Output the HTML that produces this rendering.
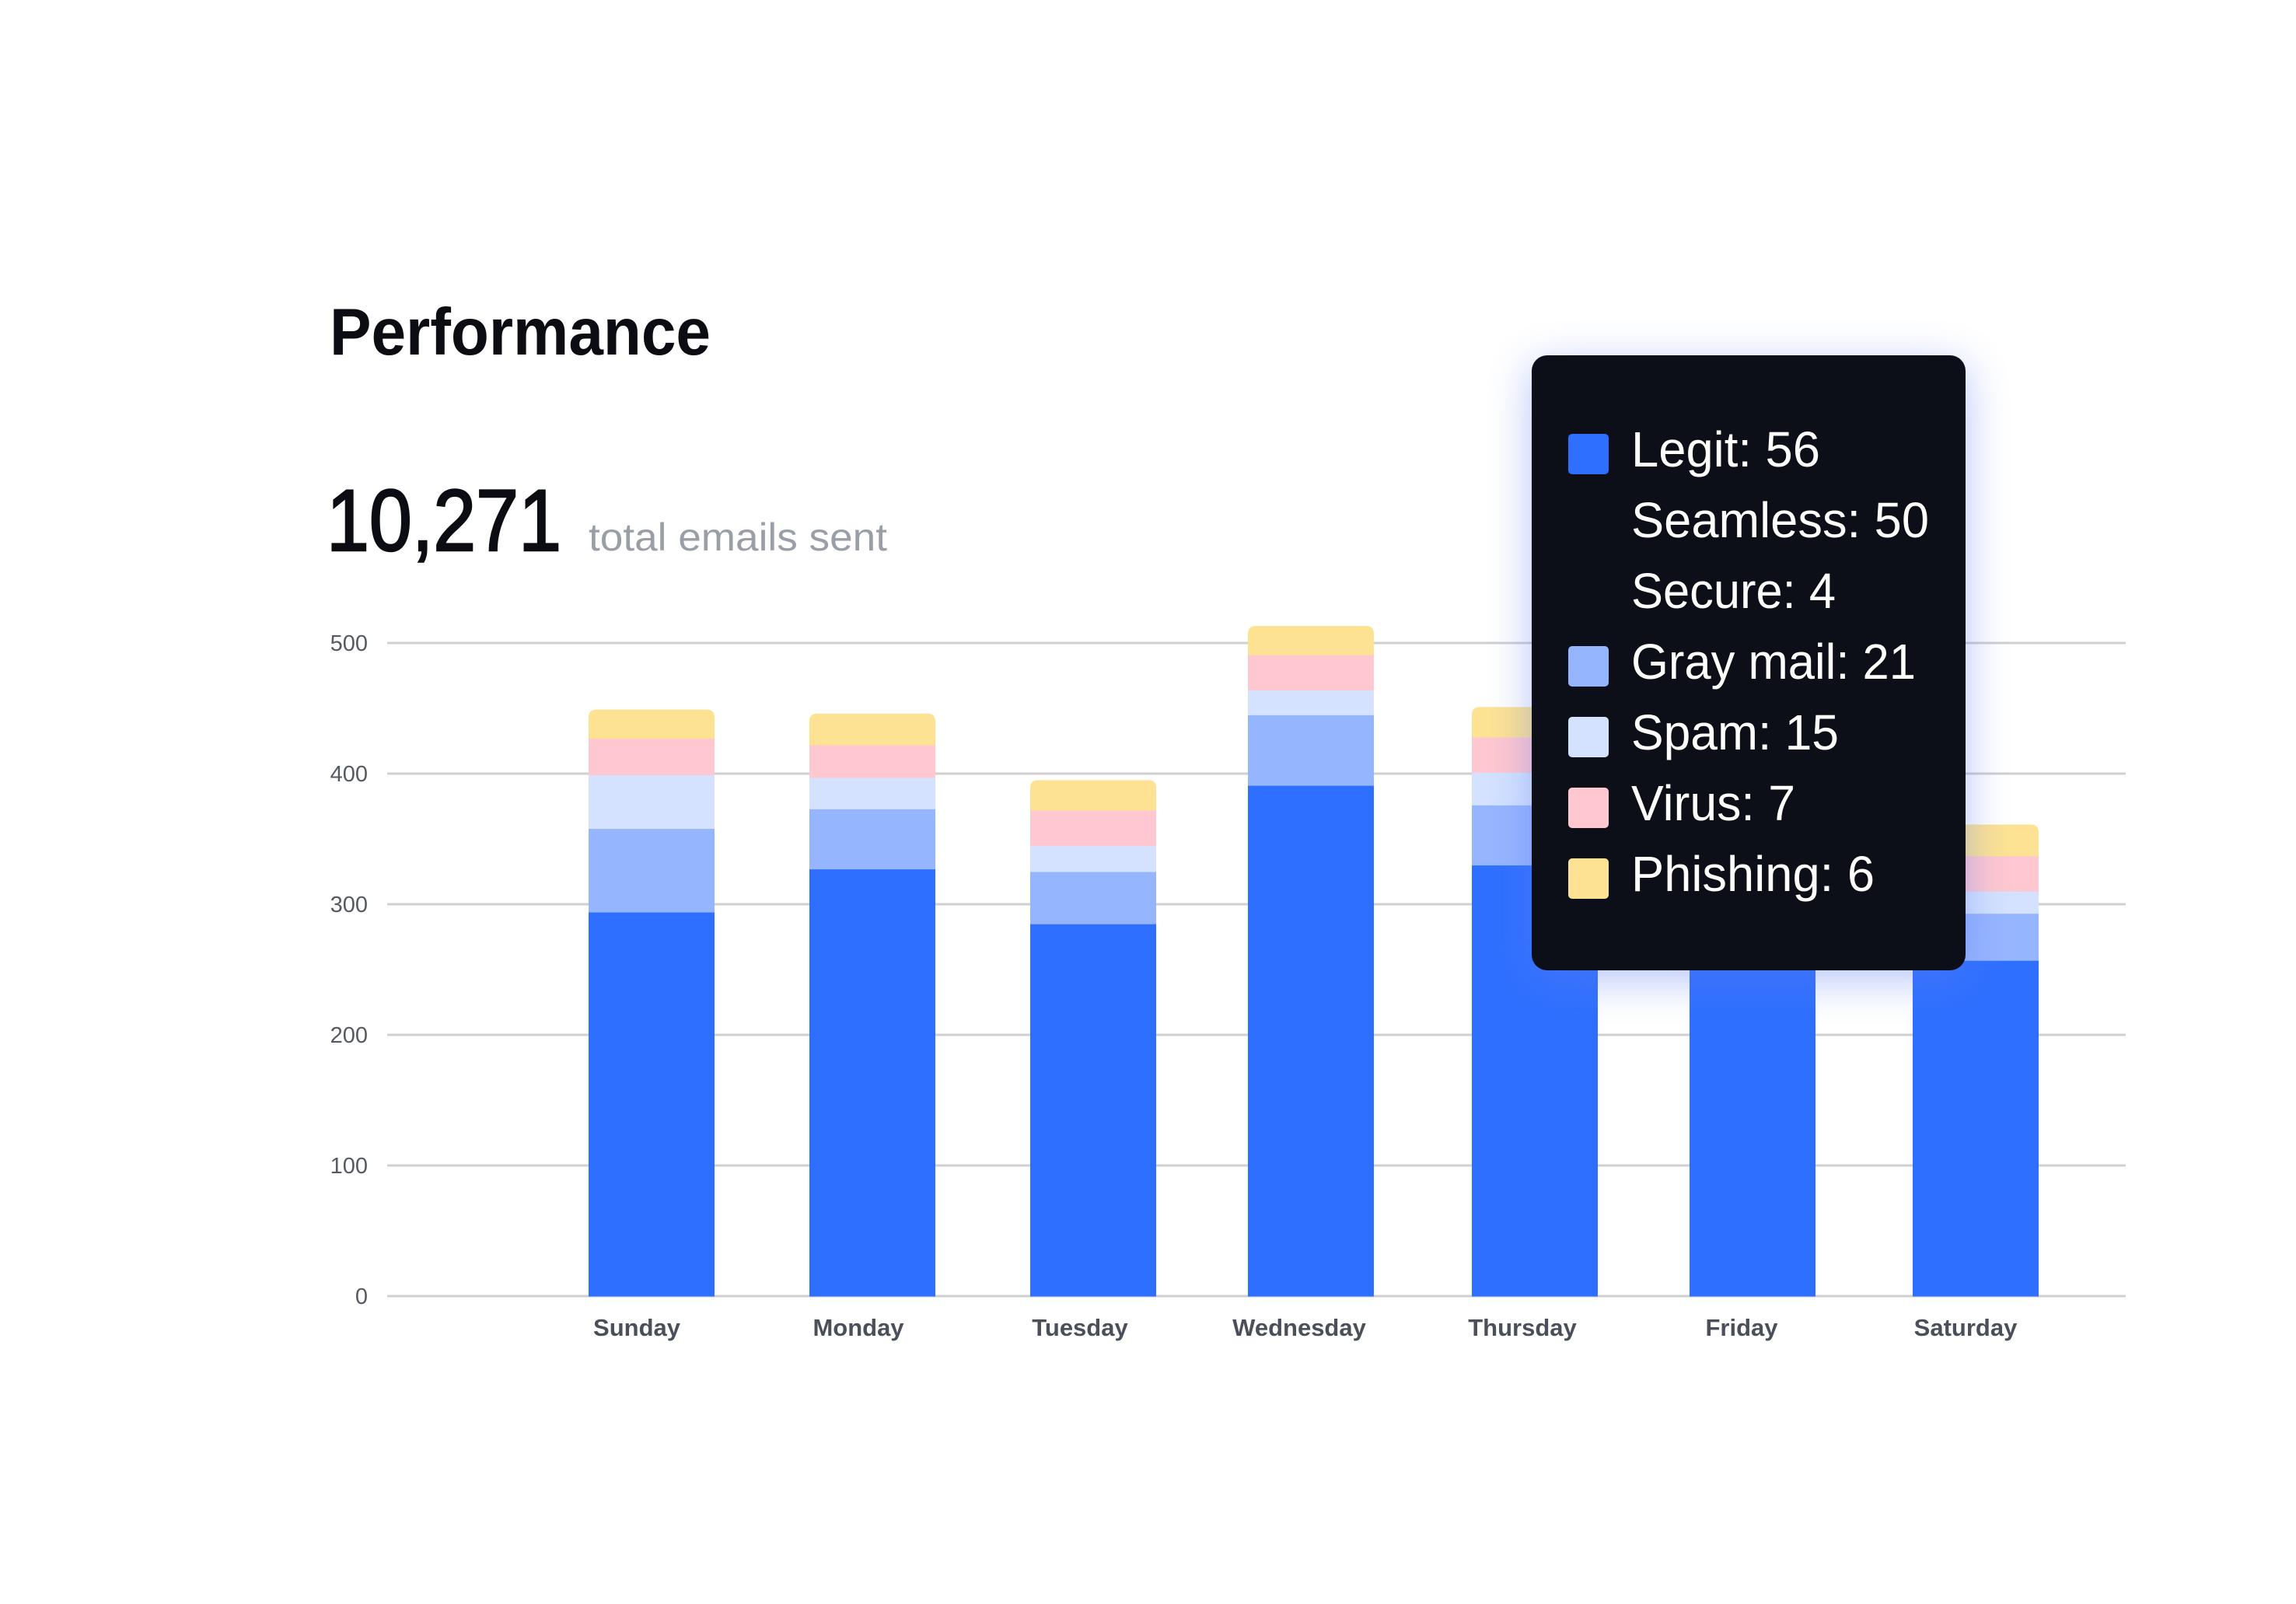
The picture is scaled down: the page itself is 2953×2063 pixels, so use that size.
<!DOCTYPE html>
<html><head><meta charset="utf-8"><style>html,body{margin:0;padding:0;background:#fff}svg{display:block}</style></head><body>
<svg width="2953" height="2063" viewBox="0 0 2953 2063" xmlns="http://www.w3.org/2000/svg" font-family="Liberation Sans, Arial, sans-serif">
<defs>
<filter id="sh" x="-30%" y="-30%" width="160%" height="160%"><feGaussianBlur stdDeviation="28"/></filter>
</defs>
<rect width="2953" height="2063" fill="#fff"/>
<text x="424" y="456" font-size="85" font-weight="bold" fill="#0b0d12" textLength="490" lengthAdjust="spacingAndGlyphs">Performance</text>
<text x="420" y="708" font-size="112" fill="#0b0d12" stroke="#0b0d12" stroke-width="2.5" textLength="302" lengthAdjust="spacingAndGlyphs">10,271</text>
<text x="757" y="708" font-size="50" fill="#9a9ea7" textLength="384" lengthAdjust="spacingAndGlyphs">total emails sent</text>
<g stroke="#cfcfd2" stroke-width="3">
<line x1="498" y1="827" x2="2734" y2="827"/>
<line x1="498" y1="995" x2="2734" y2="995"/>
<line x1="498" y1="1163" x2="2734" y2="1163"/>
<line x1="498" y1="1331" x2="2734" y2="1331"/>
<line x1="498" y1="1499" x2="2734" y2="1499"/>
<line x1="498" y1="1667" x2="2734" y2="1667"/>
</g>
<g font-size="29" fill="#555a63" text-anchor="end">
<text x="473" y="837">500</text><text x="473" y="1005">400</text><text x="473" y="1173">300</text>
<text x="473" y="1341">200</text><text x="473" y="1509">100</text><text x="473" y="1677">0</text>
</g>
<g id="bars"></g>
<g font-size="31" font-weight="bold" fill="#4a4f5a" text-anchor="middle">
<text x="819" y="1718">Sunday</text><text x="1104" y="1718">Monday</text><text x="1389" y="1718">Tuesday</text>
<text x="1671" y="1718">Wednesday</text><text x="1958" y="1718">Thursday</text><text x="2240" y="1718">Friday</text><text x="2528" y="1718">Saturday</text>
</g>
<rect x="1970" y="470" width="558" height="790" rx="20" fill="#5a7cf0" opacity="0.45" filter="url(#sh)"/>
<rect x="1970" y="457" width="558" height="791" rx="20" fill="#0c0f17"/>
<rect x="2017" y="558" width="52" height="52" rx="5" fill="#2f6fff"/>
<rect x="2017" y="831" width="52" height="52" rx="5" fill="#96b5ff"/>
<rect x="2017" y="922" width="52" height="52" rx="5" fill="#d4e2ff"/>
<rect x="2017" y="1013" width="52" height="52" rx="5" fill="#ffc7cf"/>
<rect x="2017" y="1104" width="52" height="52" rx="5" fill="#fde293"/>
<g font-size="64" fill="#fff">
<text x="2098" y="600" textLength="243" lengthAdjust="spacingAndGlyphs">Legit: 56</text>
<text x="2098" y="691" textLength="383" lengthAdjust="spacingAndGlyphs">Seamless: 50</text>
<text x="2098" y="782" textLength="263" lengthAdjust="spacingAndGlyphs">Secure: 4</text>
<text x="2098" y="873" textLength="366" lengthAdjust="spacingAndGlyphs">Gray mail: 21</text>
<text x="2098" y="964" textLength="267" lengthAdjust="spacingAndGlyphs">Spam: 15</text>
<text x="2098" y="1055" textLength="211" lengthAdjust="spacingAndGlyphs">Virus: 7</text>
<text x="2098" y="1146" textLength="313" lengthAdjust="spacingAndGlyphs">Phishing: 6</text>
</g>
<script>
var data=[[757,294,358,399,427,449],[1041,327,373,397,422,446],[1325,285,325,345,372,395],[1605,391,445,464,491,513],[1893,330,376,401,428,451],[2173,340,385,410,436,458],[2460,257,293,310,337,361]];
var cols=["#2f6fff","#96b5ff","#d4e2ff","#ffc7cf","#fde293"];
var g=document.getElementById("bars"),ns="http://www.w3.org/2000/svg";
function y(v){return 1667-v*1.68;}
data.forEach(function(d){var prev=0;for(var i=0;i<5;i++){var t=d[i+1];var r=document.createElementNS(ns,i==4?"path":"rect");
if(i<4){r.setAttribute("x",d[0]);r.setAttribute("y",y(t));r.setAttribute("width",162);r.setAttribute("height",y(prev)-y(t)+0.5);}
else{var x=d[0],yt=y(t),yb=y(prev)+0.5,w=162,rr=10;r.setAttribute("d","M"+x+","+yb+"V"+(yt+rr)+"Q"+x+","+yt+" "+(x+rr)+","+yt+"H"+(x+w-rr)+"Q"+(x+w)+","+yt+" "+(x+w)+","+(yt+rr)+"V"+yb+"Z");}
r.setAttribute("fill",cols[i]);g.appendChild(r);prev=t;}});
</script>
</svg>
</body></html>
